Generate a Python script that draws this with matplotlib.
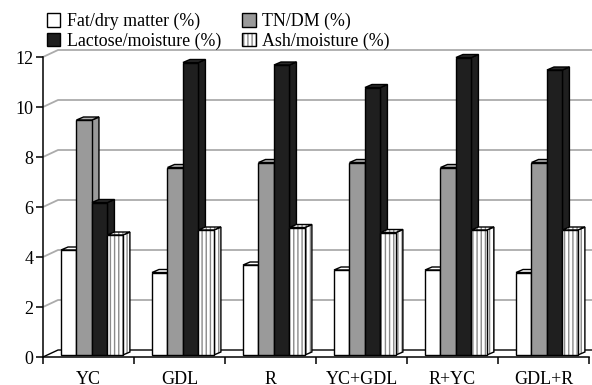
import matplotlib.pyplot as plt
from matplotlib.patches import Polygon, Patch
import numpy as np

plt.rcParams["font.family"] = ["Liberation Serif", "DejaVu Serif"]
plt.rcParams["hatch.linewidth"] = 1.0

categories = ["YC", "GDL", "R", "YC+GDL", "R+YC", "GDL+R"]
series_names = ["Fat/dry matter (%)", "TN/DM (%)", "Lactose/moisture (%)", "Ash/moisture (%)"]
fat_dm = [4.2, 3.3, 3.6, 3.4, 3.4, 3.3]
tn_dm = [9.4, 7.5, 7.7, 7.7, 7.5, 7.7]
lactose_moisture = [6.1, 11.7, 11.6, 10.7, 11.9, 11.4]
ash_moisture = [4.8, 5.0, 5.1, 4.9, 5.0, 5.0]
y_ticks = [0, 2, 4, 6, 8, 10, 12]

series = [fat_dm, tn_dm, lactose_moisture, ash_moisture]
face_colors = ["white", "#9a9a9a", "#1f1f1f", "white"]
top_colors = ["white", "#b4b4b4", "#2a2a2a", "white"]
hatches = [None, None, None, "||||"]
stripe_color = "#8a8a8a"

# fake 3-D geometry, in data units (x: categories, y: values)
wall_dx, wall_dy = 0.165, 0.28      # back wall offset
bar_dx, bar_dy = 0.077, 0.12        # bar depth
lift_dx, lift_dy = 0.044, 0.08      # bar front plane offset from the front axis
bar_w = 0.17
cluster_start = 0.198 - 0.044

fig = plt.figure(figsize=(5.92, 3.85), dpi=100)
ax = fig.add_axes([43 / 592, 28 / 385, 549 / 592, 311.25 / 385])
x_max = 549 / 91
ax.set_xlim(0, x_max)
ax.set_ylim(0, 12.45)

# back wall gridlines and floor
for v in y_ticks:
    col = "black" if v == 0 else "#ababab"
    lw = 1.0 if v == 0 else 1.3
    ax.plot([0, wall_dx, x_max], [v, v + wall_dy, v + wall_dy], color=col, lw=lw,
            zorder=1, solid_capstyle="butt")


def face(pts, fc, hatch, z):
    if hatch:
        ax.add_patch(Polygon(pts, closed=True, facecolor=fc, edgecolor=stripe_color,
                             lw=0, hatch=hatch, zorder=z))
        ax.add_patch(Polygon(pts, closed=True, fill=False, edgecolor="black",
                             lw=1.0, zorder=z + 0.01))
    else:
        ax.add_patch(Polygon(pts, closed=True, facecolor=fc, edgecolor="black",
                             lw=1.0, zorder=z))


z = 2
for i in range(len(categories)):
    for k, vals in enumerate(series):
        x0 = i + cluster_start + lift_dx + k * bar_w
        y0 = lift_dy
        top = vals[i] + lift_dy
        # side face, top face, then front face
        face([(x0 + bar_w, y0), (x0 + bar_w + bar_dx, y0 + bar_dy),
              (x0 + bar_w + bar_dx, top + bar_dy), (x0 + bar_w, top)],
             face_colors[k], hatches[k], z)
        face([(x0, top), (x0 + bar_w, top), (x0 + bar_w + bar_dx, top + bar_dy),
              (x0 + bar_dx, top + bar_dy)], top_colors[k], hatches[k], z + 0.1)
        face([(x0, y0), (x0 + bar_w, y0), (x0 + bar_w, top), (x0, top)],
             face_colors[k], hatches[k], z + 0.2)
        z += 1

# axes lines and ticks
for s in ["top", "right"]:
    ax.spines[s].set_visible(False)
ax.spines["left"].set_bounds(0, 12)
ax.spines["bottom"].set_bounds(0, len(categories))
for s in ["left", "bottom"]:
    ax.spines[s].set_linewidth(1.1)
    ax.spines[s].set_zorder(100)
ax.set_yticks(y_ticks)
ax.tick_params(axis="y", length=5, width=1.1, pad=2, labelsize=13)
ax.set_xticks(np.arange(len(categories) + 1))
ax.set_xticklabels([])
ax.tick_params(axis="x", which="major", length=5, width=1.1)
ax.set_xticks(np.arange(len(categories)) + 0.5, categories, minor=True)
ax.tick_params(axis="x", which="minor", length=0, pad=10, labelsize=13)

# legend
handles = []
for k in range(4):
    if hatches[k]:
        handles.append((Patch(facecolor="white", edgecolor=stripe_color, lw=0, hatch=hatches[k]),
                        Patch(fill=False, edgecolor="black", lw=1.0)))
    else:
        handles.append(Patch(facecolor=face_colors[k], edgecolor="black", lw=1.0))
order = [0, 2, 1, 3]
fig.legend([handles[j] for j in order], [series_names[j] for j in order], ncol=2,
           loc="upper left", bbox_to_anchor=(47 / 592, 1 - 13 / 385), frameon=False,
           fontsize=12.9, handlelength=0.75, handleheight=0.75, handletextpad=0.35,
           columnspacing=1.2, labelspacing=0.12, borderpad=0, borderaxespad=0)

fig.savefig("out.png", dpi=100)
